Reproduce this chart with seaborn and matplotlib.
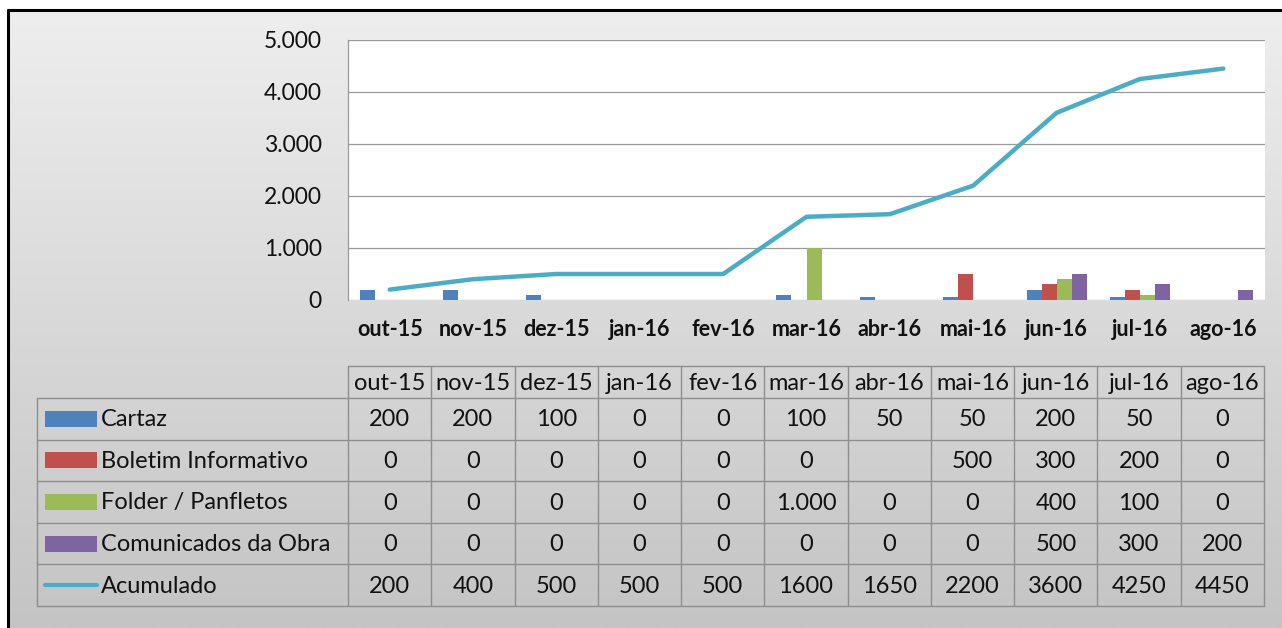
import numpy as np
import pandas as pd
import seaborn as sns
import matplotlib.pyplot as plt
from matplotlib.patches import Rectangle
from matplotlib.ticker import FixedLocator, FuncFormatter

months = ['out-15', 'nov-15', 'dez-15', 'jan-16', 'fev-16', 'mar-16',
          'abr-16', 'mai-16', 'jun-16', 'jul-16', 'ago-16']
cartaz = [200, 200, 100, 0, 0, 100, 50, 50, 200, 50, 0]
boletim = [0, 0, 0, 0, 0, 0, np.nan, 500, 300, 200, 0]
folder = [0, 0, 0, 0, 0, 1000, 0, 0, 400, 100, 0]
comunicados = [0, 0, 0, 0, 0, 0, 0, 0, 500, 300, 200]
acumulado = [200, 400, 500, 500, 500, 1600, 1650, 2200, 3600, 4250, 4450]

series_names = ['Cartaz', 'Boletim Informativo', 'Folder / Panfletos', 'Comunicados da Obra']
series_vals = [cartaz, boletim, folder, comunicados]
colors = ['#4F81BD', '#C0504D', '#9BBB59', '#8064A2']
line_color = '#4BACC6'

W, H = 1282, 628

sns.set_theme(style='white')
plt.rcParams['font.family'] = ['Lato', 'DejaVu Sans']

fig = plt.figure(figsize=(W / 100, H / 100), dpi=100)

# background gradient + black frame (pixel coordinates)
bg = fig.add_axes([0, 0, 1, 1], zorder=-10)
bg.set_xlim(0, W)
bg.set_ylim(H, 0)
bg.axis('off')
grad = np.linspace(0, 1, 256).reshape(-1, 1)
bg.imshow(grad, extent=(8, W, H, 10), aspect='auto',
          cmap=sns.blend_palette(['#eeeeee', '#c4c4c4'], as_cmap=True), zorder=0)
bg.plot([8, 8], [10, H], color='black', lw=2.2, zorder=2)
bg.plot([8, W], [10, 10], color='black', lw=2.2, zorder=2)


def px_rect(x0, y0, x1, y1):
    return [x0 / W, 1 - y1 / H, (x1 - x0) / W, (y1 - y0) / H]


# main chart
ax = fig.add_axes(px_rect(348, 40, 1265, 300))
ax.set_facecolor('white')

df = pd.DataFrame({
    'month': months * len(series_names),
    'serie': np.repeat(series_names, len(months)),
    'value': np.concatenate(series_vals),
})
sns.barplot(data=df, x='month', y='value', hue='serie', order=months,
            hue_order=series_names, palette=colors, width=0.72, saturation=1,
            errorbar=None, linewidth=0, legend=False, ax=ax, zorder=3)
sns.lineplot(x=np.arange(len(months)), y=acumulado, color=line_color,
             linewidth=3.2, ax=ax, zorder=4, solid_capstyle='round',
             solid_joinstyle='round')

ax.set_xlim(-0.5, len(months) - 0.5)
ax.set_ylim(0, 5000)
ax.yaxis.set_major_locator(FixedLocator(range(0, 5001, 1000)))
ax.yaxis.set_major_formatter(FuncFormatter(lambda v, p: f'{int(v):,}'.replace(',', '.')))
ax.grid(axis='y', color='#9a9a9a', linewidth=0.9, zorder=0)
ax.set_axisbelow(True)
for s in ['top', 'right', 'bottom']:
    ax.spines[s].set_visible(False)
ax.spines['left'].set_color('#9a9a9a')
ax.spines['left'].set_linewidth(0.9)
ax.set_xlabel('')
ax.set_ylabel('')
ax.tick_params(axis='y', length=0, pad=19, labelsize=16.5, labelcolor='#111111')
ax.tick_params(axis='x', length=0, pad=14, labelsize=15.5, labelcolor='#111111')
for t in ax.get_xticklabels():
    t.set_fontweight('bold')

# data table (pixel coordinates)
tb = fig.add_axes([0, 0, 1, 1], zorder=5)
tb.set_xlim(0, W)
tb.set_ylim(H, 0)
tb.axis('off')

x0, x1 = 348, 1264
lab_x0 = 37
col_w = (x1 - x0) / len(months)
head_top, head_bot = 366, 398
row_h = (606 - 398) / 5
grid_c = '#8e8e8e'
fs = 17

# header row
tb.plot([x0, x1], [head_top, head_top], color=grid_c, lw=1)
for i in range(len(months) + 1):
    xc = x0 + i * col_w
    tb.plot([xc, xc], [head_top, 606], color=grid_c, lw=1)
for i, m in enumerate(months):
    tb.text(x0 + (i + 0.5) * col_w, (head_top + head_bot) / 2 + 1, m,
            ha='center', va='center', fontsize=fs, color='#111111')

# body rows
for r in range(6):
    yy = head_bot + r * row_h
    tb.plot([lab_x0, x1], [yy, yy], color=grid_c, lw=1)
tb.plot([lab_x0, lab_x0], [head_bot, 606], color=grid_c, lw=1)


def fmt(v, sep=True):
    if np.isnan(v):
        return ''
    return f'{int(v):,}'.replace(',', '.') if sep else str(int(v))


row_labels = series_names + ['Acumulado']
row_vals = series_vals + [acumulado]
for r, (lab, vals) in enumerate(zip(row_labels, row_vals)):
    yc = head_bot + (r + 0.5) * row_h
    if r < 4:
        tb.add_patch(Rectangle((45, yc - 8), 52, 16, facecolor=colors[r],
                               edgecolor='none'))
    else:
        tb.plot([45, 97], [yc, yc], color=line_color, lw=3, solid_capstyle='round')
    tb.text(101, yc + 1, lab, ha='left', va='center', fontsize=fs, color='#111111')
    for i, v in enumerate(vals):
        tb.text(x0 + (i + 0.5) * col_w, yc + 1, fmt(float(v), sep=(r < 4)),
                ha='center', va='center', fontsize=fs, color='#111111')

fig.savefig('out.png', dpi=100)
